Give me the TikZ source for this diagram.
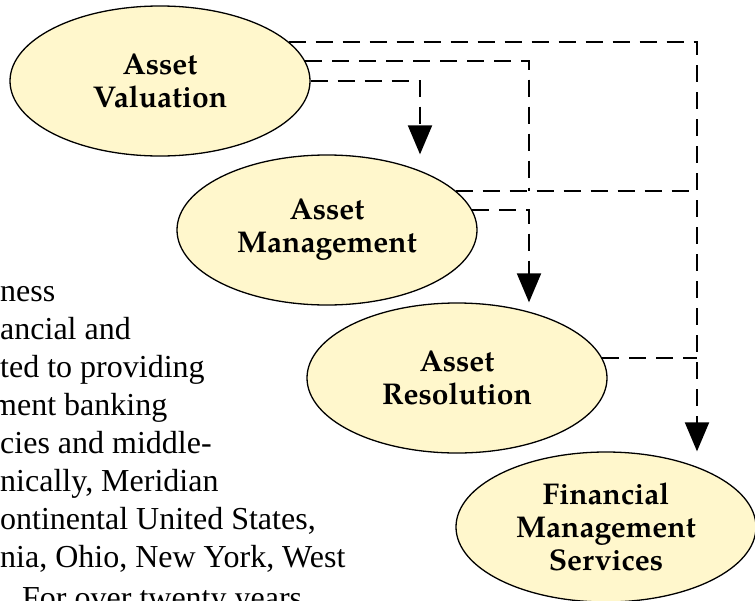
\documentclass[tikz,border=0pt]{standalone}
\usepackage{fontspec}
\usepackage{tikz}
\usetikzlibrary{arrows.meta,shapes.geometric}
\newfontfamily\bodyfont{Liberation Serif}
\newfontfamily\pagellafont{TeX Gyre Pagella}
\newcommand{\bubblefont}{\pagellafont\bfseries\fontsize{30}{33}\selectfont}
\definecolor{bubblefill}{RGB}{255,247,204}

\begin{document}
\begin{tikzpicture}[x=1pt, y=-1pt,
        bubble/.style={ellipse, draw, line width=1.3pt, fill=bubblefill, minimum width=300pt, minimum height=150pt, inner sep=0pt, align=center, font=\bubblefont},
        link/.style={line width=2pt, dash pattern=on 17pt off 10pt},
        tip/.style={-{Triangle[length=29pt, width=24pt]}},
        prose/.style={anchor=base west, inner sep=0pt, font=\bodyfont\fontsize{32}{38}\selectfont}]
        \useasboundingbox (0,0) rectangle (755,600);
        \clip (0,0) rectangle (755,600);

        \node[prose] (p1) at (0,301) {ness};
        \node[prose] (p2) at (0,339) {ancial and};
        \node[prose] (p3) at (0,377) {ted to providing};
        \node[prose] (p4) at (-8,415) {ment banking};
        \node[prose] (p5) at (0,453) {cies and middle-};
        \node[prose] (p6) at (0,491) {nically, Meridian};
        \node[prose] (p7) at (0,529) {ontinental United States,};
        \node[prose] (p8) at (0,567) {nia, Ohio, New York, West};
        \node[prose] (p9) at (22,608) {For over twenty years};

        \node[bubble] (val) at (160,81) {Asset\\Valuation};
        \node[bubble] (mgmt) at (327,230) {Asset\\Management};
        \node[bubble] (res) at (457,378) {Asset\\Resolution};
        \node[bubble] (fms) at (606,527) {Financial\\Management\\Services};

        \coordinate (c1) at (420,0);
        \coordinate (c2) at (529,0);
        \coordinate (c3) at (697,0);

        \draw[link, tip] (val.0) -| (c1 |- mgmt.north);
        \draw[link] (val.8) -| (c2 |- mgmt.17);
        \draw[link] (mgmt.17) -- (c3 |- mgmt.17);
        \draw[link, tip] (mgmt.8) -| (c2 |- res.north);
        \draw[link] (res.8) -- (c3 |- res.8);
        \draw[link, tip] (val.17) -| (c3 |- fms.north);
\end{tikzpicture}
\end{document}
